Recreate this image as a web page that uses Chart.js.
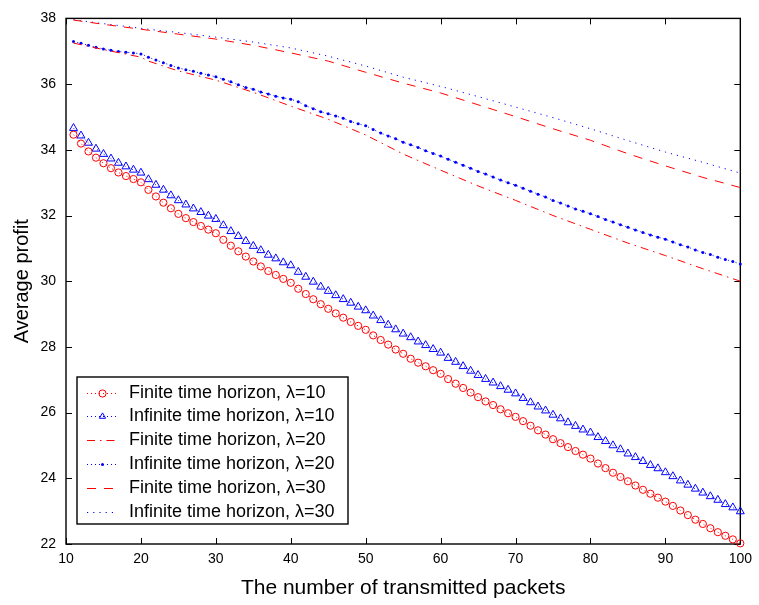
<!DOCTYPE html>
<html>
<head>
<meta charset="utf-8">
<script src="https://cdn.jsdelivr.net/npm/chart.js@4.4.1/dist/chart.umd.min.js"></script>
<style>
  html, body { margin: 0; padding: 0; background: #fff; }
  #wrap { width: 759px; height: 605px; }
</style>
</head>
<body>
<div id="wrap"><canvas id="profitChart" width="759" height="605"></canvas></div>
<script>
// x values (number of transmitted packets) for the marker series
const packets = [11, 12, 13, 14, 15, 16, 17, 18, 19, 20,
  21, 22, 23, 24, 25, 26, 27, 28, 29, 30,
  31, 32, 33, 34, 35, 36, 37, 38, 39, 40,
  41, 42, 43, 44, 45, 46, 47, 48, 49, 50,
  51, 52, 53, 54, 55, 56, 57, 58, 59, 60,
  61, 62, 63, 64, 65, 66, 67, 68, 69, 70,
  71, 72, 73, 74, 75, 76, 77, 78, 79, 80,
  81, 82, 83, 84, 85, 86, 87, 88, 89, 90,
  91, 92, 93, 94, 95, 96, 97, 98, 99, 100];

const finite10 = [34.46, 34.19, 33.95, 33.76, 33.59, 33.44, 33.31, 33.20, 33.11, 33.01,
  32.78, 32.58, 32.39, 32.22, 32.05, 31.92, 31.80, 31.68, 31.57, 31.46,
  31.26, 31.08, 30.91, 30.75, 30.60, 30.45, 30.31, 30.19, 30.07, 29.95,
  29.77, 29.61, 29.45, 29.30, 29.16, 29.02, 28.89, 28.76, 28.64, 28.52,
  28.35, 28.21, 28.07, 27.92, 27.79, 27.64, 27.52, 27.41, 27.29, 27.18,
  27.02, 26.88, 26.75, 26.61, 26.47, 26.34, 26.23, 26.10, 25.98, 25.87,
  25.74, 25.60, 25.46, 25.33, 25.19, 25.07, 24.95, 24.83, 24.72, 24.60,
  24.45, 24.31, 24.17, 24.04, 23.91, 23.78, 23.65, 23.53, 23.41, 23.29,
  23.16, 23.02, 22.88, 22.74, 22.61, 22.48, 22.36, 22.25, 22.14, 22.02];

const infinite10 = [34.66, 34.43, 34.21, 34.03, 33.87, 33.73, 33.60, 33.49, 33.39, 33.30,
  33.10, 32.93, 32.78, 32.61, 32.46, 32.33, 32.21, 32.10, 31.99, 31.89,
  31.70, 31.52, 31.37, 31.22, 31.07, 30.94, 30.80, 30.69, 30.57, 30.48,
  30.28, 30.13, 29.98, 29.83, 29.70, 29.57, 29.45, 29.34, 29.22, 29.11,
  28.95, 28.81, 28.67, 28.53, 28.40, 28.29, 28.16, 28.05, 27.93, 27.82,
  27.66, 27.54, 27.41, 27.27, 27.14, 27.02, 26.91, 26.80, 26.69, 26.58,
  26.44, 26.31, 26.18, 26.06, 25.93, 25.82, 25.70, 25.59, 25.48, 25.39,
  25.25, 25.13, 25.00, 24.88, 24.75, 24.64, 24.52, 24.40, 24.30, 24.18,
  24.06, 23.93, 23.80, 23.68, 23.56, 23.45, 23.34, 23.21, 23.11, 22.99];

const infinite20 = [37.30, 37.24, 37.18, 37.12, 37.07, 37.03, 36.99, 36.97, 36.95, 36.92,
  36.82, 36.73, 36.65, 36.57, 36.49, 36.44, 36.39, 36.33, 36.28, 36.22,
  36.15, 36.07, 35.98, 35.90, 35.84, 35.76, 35.70, 35.63, 35.58, 35.54,
  35.46, 35.34, 35.25, 35.16, 35.10, 35.03, 34.96, 34.86, 34.79, 34.73,
  34.62, 34.51, 34.42, 34.34, 34.23, 34.15, 34.07, 33.97, 33.89, 33.81,
  33.71, 33.62, 33.53, 33.44, 33.34, 33.26, 33.17, 33.08, 33.00, 32.92,
  32.83, 32.74, 32.65, 32.56, 32.46, 32.38, 32.29, 32.20, 32.13, 32.05,
  31.97, 31.88, 31.80, 31.72, 31.64, 31.56, 31.48, 31.41, 31.34, 31.28,
  31.19, 31.11, 31.04, 30.95, 30.87, 30.81, 30.73, 30.66, 30.60, 30.52];

// the plain line series were read at fewer x positions
const linePackets = [11, 15, 20, 21, 25, 30, 35, 40, 45, 50, 55, 60, 65, 70, 75, 80, 85, 90, 95, 100];
const finite20 = [37.25, 37.05, 36.82, 36.70, 36.40, 36.12, 35.75, 35.33, 34.93, 34.45,
  33.87, 33.38, 32.90, 32.46, 32.00, 31.58, 31.16, 30.78, 30.38, 30.00];
const finite30 = [37.95, 37.82, 37.67, 37.64, 37.52, 37.37, 37.18, 36.95, 36.70, 36.36,
  36.03, 35.73, 35.37, 35.01, 34.64, 34.29, 33.88, 33.51, 33.16, 32.85];
const infinite30 = [37.96, 37.84, 37.70, 37.67, 37.57, 37.43, 37.28, 37.10, 36.85, 36.55,
  36.21, 35.93, 35.62, 35.30, 34.98, 34.64, 34.28, 33.93, 33.62, 33.29];

const xTicks = [10, 20, 30, 40, 50, 60, 70, 80, 90, 100];
const yTicks = [22, 24, 26, 28, 30, 32, 34, 36, 38];

const seriesNames = ['Finite time horizon, λ=10', 'Infinite time horizon, λ=10',
  'Finite time horizon, λ=20', 'Infinite time horizon, λ=20',
  'Finite time horizon, λ=30', 'Infinite time horizon, λ=30'];

const RED = '#ff0000', BLUE = '#0000ff';
const FONT = '"Liberation Sans", Arial, Helvetica, sans-serif';

function pairs(xs, ys) { return xs.map((x, i) => ({ x: x, y: ys[i] })); }

const datasets = [
  { label: seriesNames[0], data: pairs(packets, finite10), borderColor: RED, borderWidth: 1, borderDash: [1, 3],
    pointStyle: 'circle', pointRadius: 3.6, pointBorderWidth: 1, pointBorderColor: RED, pointBackgroundColor: 'rgba(0,0,0,0)' },
  { label: seriesNames[1], data: pairs(packets, infinite10), borderColor: BLUE, borderWidth: 1, borderDash: [1, 3],
    pointStyle: 'triangle', pointRadius: 4.6, pointBorderWidth: 1, pointBorderColor: BLUE, pointBackgroundColor: 'rgba(0,0,0,0)' },
  { label: seriesNames[2], data: pairs(linePackets, finite20), borderColor: RED, borderWidth: 1, borderDash: [8, 5, 1.5, 5],
    pointRadius: 0 },
  { label: seriesNames[3], data: pairs(packets, infinite20), borderColor: BLUE, borderWidth: 1, borderDash: [1, 3],
    pointStyle: 'circle', pointRadius: 1.5, pointBorderWidth: 0, pointBackgroundColor: BLUE },
  { label: seriesNames[4], data: pairs(linePackets, finite30), borderColor: RED, borderWidth: 1, borderDash: [9, 8],
    pointRadius: 0 },
  { label: seriesNames[5], data: pairs(linePackets, infinite30), borderColor: BLUE, borderWidth: 1, borderDash: [1.2, 5],
    pointRadius: 0 }
];
datasets.forEach(d => { d.fill = false; d.tension = 0; d.clip = 8; d.pointHoverRadius = d.pointRadius; });

// MATLAB style box with inward ticks on all four sides
const frameBox = {
  id: 'frameBox',
  beforeDatasetsDraw(chart) {
    const { ctx, chartArea: a, scales: { x, y } } = chart;
    ctx.save();
    ctx.strokeStyle = '#000';
    ctx.lineWidth = 1.4;
    ctx.strokeRect(a.left, a.top, a.right - a.left, a.bottom - a.top);
    ctx.lineWidth = 1;
    ctx.beginPath();
    x.ticks.forEach(t => {
      const px = Math.round(x.getPixelForValue(t.value)) + 0.5;
      ctx.moveTo(px, a.bottom); ctx.lineTo(px, a.bottom - 6);
      ctx.moveTo(px, a.top); ctx.lineTo(px, a.top + 6);
    });
    y.ticks.forEach(t => {
      const py = Math.round(y.getPixelForValue(t.value)) + 0.5;
      ctx.moveTo(a.left, py); ctx.lineTo(a.left + 6, py);
      ctx.moveTo(a.right, py); ctx.lineTo(a.right - 6, py);
    });
    ctx.stroke();
    ctx.restore();
  }
};

// legend box in the lower left corner of the axes
const boxLegend = {
  id: 'boxLegend',
  afterDatasetsDraw(chart) {
    const { ctx, chartArea: a } = chart;
    const left = a.left + 11, w = 271, h = 147, top = a.bottom - 20 - h;
    const rowH = 23.9;
    ctx.save();
    ctx.fillStyle = '#fff';
    ctx.fillRect(left, top, w, h);
    ctx.strokeStyle = '#000';
    ctx.lineWidth = 1.4;
    ctx.strokeRect(left, top, w, h);
    ctx.font = '18px ' + FONT;
    ctx.textBaseline = 'middle';
    chart.data.datasets.forEach((ds, i) => {
      const cy = Math.round(top + 15.5 + i * rowH) + 0.5;
      ctx.save();
      ctx.strokeStyle = ds.borderColor;
      ctx.lineWidth = ds.borderWidth;
      ctx.setLineDash(ds.borderDash || []);
      ctx.beginPath();
      ctx.moveTo(left + 10, cy); ctx.lineTo(left + 41, cy);
      ctx.stroke();
      ctx.restore();
      if (ds.pointRadius > 0) {
        ctx.save();
        ctx.strokeStyle = ds.pointBorderColor || ds.borderColor;
        ctx.fillStyle = ds.pointBackgroundColor;
        ctx.lineWidth = ds.pointBorderWidth;
        Chart.helpers.drawPoint(ctx, { pointStyle: ds.pointStyle, radius: Math.min(ds.pointRadius, 3.6), rotation: 0, borderWidth: ds.pointBorderWidth }, left + 25.5, cy);
        ctx.restore();
      }
      ctx.fillStyle = '#000';
      ctx.fillText(ds.label, left + 52, cy);
    });
    ctx.restore();
  }
};

new Chart(document.getElementById('profitChart'), {
  type: 'line',
  data: { datasets: datasets },
  options: {
    responsive: false,
    animation: false,
    events: [],
    layout: { padding: { left: 0, top: 10, right: 16, bottom: 0 } },
    plugins: { legend: { display: false }, tooltip: { enabled: false } },
    scales: {
      x: {
        type: 'linear', min: 10, max: 100,
        afterBuildTicks: s => { s.ticks = xTicks.map(v => ({ value: v })); },
        afterFit: s => { s.height = 61; },
        grid: { display: false, drawTicks: false }, border: { display: false },
        ticks: { color: '#000', padding: 7, maxRotation: 0, font: { family: FONT, size: 14 } },
        title: { display: true, text: 'The number of transmitted packets', color: '#000', padding: { top: 0, bottom: 4 }, font: { family: FONT, size: 21 } }
      },
      y: {
        type: 'linear', min: 22, max: 38,
        afterBuildTicks: s => { s.ticks = yTicks.map(v => ({ value: v })); },
        afterFit: s => { s.width = 66; },
        grid: { display: false, drawTicks: false }, border: { display: false },
        ticks: { color: '#000', padding: 10, font: { family: FONT, size: 14 } },
        title: { display: true, text: 'Average profit', color: '#000', padding: { top: 10, bottom: 0 }, font: { family: FONT, size: 20 } }
      }
    }
  },
  plugins: [frameBox, boxLegend]
});
</script>
</body>
</html>
